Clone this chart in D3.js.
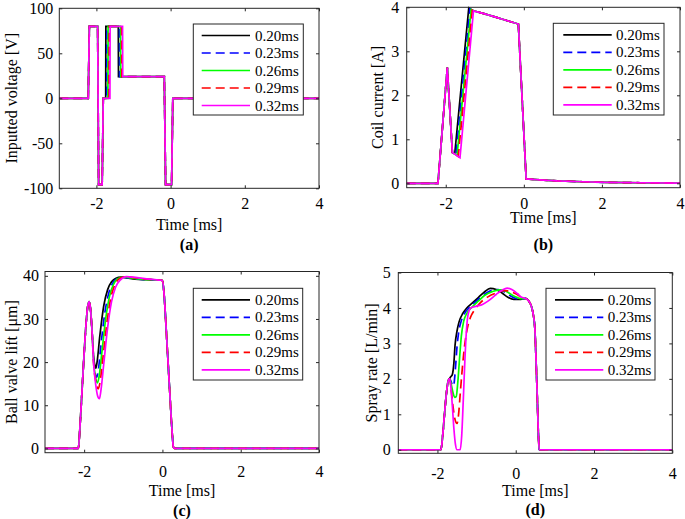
<!DOCTYPE html>
<html><head><meta charset="utf-8">
<script src="https://cdn.jsdelivr.net/npm/d3@7"></script>
<style>body{margin:0;background:#fff}svg{display:block}</style>
</head><body><script>
// ---------- data ----------
const seriesLabels = ["0.20ms","0.23ms","0.26ms","0.29ms","0.32ms"];
const timeTicks = [-2,0,2,4];
const voltageTicks = [-100,-50,0,50,100];
const currentTicks = [0,1,2,3,4];
const liftTicks = [0,10,20,30,40];
const sprayTicks = [0,1,2,3,4,5];

// (a) inputted voltage [V]
const voltageHead = [[-3,0],[-2.22,0],[-2.19,80],[-1.966,80],[-1.94,-96],[-1.845,-96],[-1.815,0]];
const voltageTail = [[-0.17,24],[-0.135,-96],[0.027,-96],[0.06,0],[4,0]];
const voltage020 = [[-1.75,0],[-1.745,80],[-1.41,80],[-1.405,24]];
const voltage023 = [[-1.72,0],[-1.715,80],[-1.38,80],[-1.375,24]];
const voltage026 = [[-1.69,0],[-1.685,80],[-1.35,80],[-1.345,24]];
const voltage029 = [[-1.66,0],[-1.655,80],[-1.32,80],[-1.315,24]];
const voltage032 = [[-1.635,0],[-1.63,80],[-1.295,80],[-1.29,24]];

// (b) coil current [A]
const currentHead = [[-3,0],[-2.2,0],[-1.96,2.63],[-1.83,0.70]];
const currentTail = [[-1.0,3.85],[-0.7,3.77],[-0.4,3.69],[-0.14,3.62],[0.06,0.10],[0.4,0.08],[0.85,0.055],[1.5,0.035],[2.1,0.022],[3.0,0.012],[4,0.005]];
const current020 = [[-1.77,0.67],[-1.41,3.99],[-1.38,3.97],[-1.35,3.95],[-1.32,3.935],[-1.29,3.92]];
const current023 = [[-1.74,0.65],[-1.38,3.97],[-1.35,3.95],[-1.32,3.935],[-1.29,3.92]];
const current026 = [[-1.71,0.63],[-1.35,3.95],[-1.32,3.935],[-1.29,3.92]];
const current029 = [[-1.68,0.61],[-1.32,3.935],[-1.29,3.92]];
const current032 = [[-1.635,0.58],[-1.29,3.92]];

// (c) ball valve lift [um]
const liftHead = [[-3,0],[-2.15,0],[-2.1,6],[-2.05,14],[-2.0,22],[-1.95,29],[-1.91,32.8],[-1.87,34],[-1.84,32.5],[-1.8,27.5]];
const liftTail = [[0,38.9],[0.04,36],[0.1,27],[0.15,19],[0.2,11],[0.25,3.5],[0.28,0.3],[0.3,0],[4,0]];
const lift020 = [[-1.76,21.5],[-1.72,19],[-1.70,18.6],[-1.67,20],[-1.6,26],[-1.5,33],[-1.4,36.8],[-1.3,38.6],[-1.2,39.4],[-1.05,39.7],[-0.9,39.5],[-0.7,39.2],[-0.4,39.1],[-0.05,39.0]];
const lift023 = [[-1.76,21],[-1.72,17.5],[-1.68,16.5],[-1.64,18],[-1.57,24],[-1.47,31.5],[-1.37,36],[-1.27,38.3],[-1.15,39.4],[-1.0,39.7],[-0.85,39.5],[-0.6,39.2],[-0.3,39.1],[-0.05,39.0]];
const lift026 = [[-1.76,20.5],[-1.71,16.5],[-1.66,15.2],[-1.62,16.5],[-1.55,22],[-1.45,30],[-1.35,35.3],[-1.25,38],[-1.12,39.4],[-0.95,39.7],[-0.8,39.5],[-0.55,39.2],[-0.25,39.1],[-0.05,39.0]];
const lift029 = [[-1.76,20],[-1.70,15.5],[-1.64,13.8],[-1.60,15],[-1.52,21],[-1.42,29],[-1.32,34.8],[-1.22,37.8],[-1.1,39.3],[-0.92,39.8],[-0.75,39.6],[-0.5,39.3],[-0.2,39.1],[-0.05,39.0]];
const lift032 = [[-1.76,20],[-1.70,14.5],[-1.65,12],[-1.61,11.5],[-1.57,13.5],[-1.5,19.5],[-1.4,28],[-1.3,34],[-1.2,37.3],[-1.08,39],[-0.92,39.8],[-0.75,39.7],[-0.5,39.4],[-0.2,39.1],[-0.05,39.0]];

// (d) spray rate [L/min]
const sprayHead = [[-3,0],[-1.91,0],[-1.87,0.35],[-1.82,1.0],[-1.77,1.6],[-1.73,1.92],[-1.69,2.01]];
const sprayTail = [[0.33,4.2],[0.4,4.05],[0.45,3.8],[0.49,3.4],[0.52,2.5],[0.55,1.5],[0.58,0.4],[0.6,0],[4,0]];
const spray020 = [[-1.66,2.06],[-1.62,2.12],[-1.58,2.45],[-1.55,2.95],[-1.5,3.35],[-1.45,3.6],[-1.35,3.85],[-1.25,4.0],[-1.1,4.15],[-0.95,4.3],[-0.8,4.45],[-0.65,4.55],[-0.5,4.52],[-0.35,4.42],[-0.2,4.3],[-0.05,4.24],[0.1,4.24],[0.25,4.27]];
const spray023 = [[-1.65,1.92],[-1.61,1.8],[-1.58,1.85],[-1.54,2.3],[-1.5,2.9],[-1.46,3.3],[-1.4,3.6],[-1.32,3.82],[-1.2,4.0],[-1.05,4.15],[-0.9,4.3],[-0.75,4.42],[-0.6,4.5],[-0.45,4.52],[-0.3,4.46],[-0.15,4.35],[0,4.27],[0.15,4.25],[0.25,4.27]];
const spray026 = [[-1.65,1.85],[-1.6,1.6],[-1.56,1.48],[-1.52,1.5],[-1.48,1.9],[-1.44,2.5],[-1.39,3.2],[-1.33,3.62],[-1.25,3.85],[-1.12,4.02],[-0.95,4.2],[-0.8,4.35],[-0.6,4.46],[-0.42,4.51],[-0.25,4.47],[-0.1,4.37],[0.05,4.29],[0.15,4.26],[0.25,4.27]];
const spray029 = [[-1.65,1.7],[-1.6,1.2],[-1.55,0.85],[-1.5,0.74],[-1.46,1.0],[-1.42,1.55],[-1.38,2.1],[-1.33,2.7],[-1.28,3.15],[-1.22,3.5],[-1.15,3.75],[-1.05,3.95],[-0.9,4.15],[-0.7,4.32],[-0.5,4.42],[-0.3,4.49],[-0.15,4.47],[0,4.4],[0.15,4.3],[0.25,4.27]];
const spray032 = [[-1.66,1.8],[-1.62,1.25],[-1.58,0.6],[-1.54,0.15],[-1.5,0],[-1.42,0],[-1.38,0.4],[-1.34,1.4],[-1.3,2.5],[-1.26,3.35],[-1.22,3.8],[-1.15,4.0],[-1.0,4.05],[-0.85,4.1],[-0.7,4.2],[-0.5,4.38],[-0.35,4.5],[-0.22,4.56],[-0.1,4.52],[0.05,4.4],[0.15,4.3],[0.25,4.27]];

// ---------- styles ----------
const seriesColors = ["#000000","#0000ff","#00ff00","#ff0000","#ff00ff"];
const seriesDash = [null,"9,5",null,"9,5",null];
const FONT = "'Liberation Serif','Times New Roman',serif";

const svg = d3.select("body").append("svg").attr("width",685).attr("height",519)
  .style("font-family", FONT);

const panels = [
 {id:"a", l:59.3, r:319, t:8.3, b:188.3, yd:[-100,100], yt:voltageTicks, ylabel:"Inputted voltage [V]",
  series:[voltage020,voltage023,voltage026,voltage029,voltage032].map(s=>voltageHead.concat(s,voltageTail)),
  curve:d3.curveLinear, xpad:9.4, ypad:6, ylabX:12, xlabY:230, capY:250, cap:"(a)",
  leg:{x:193.3,y:24,w:110,h:91,lx1:201.7,lx2:250,tx:255}},
 {id:"b", l:406.7, r:680, t:7.3, b:187.7, yd:[-0.1,4], yt:currentTicks, ylabel:"Coil current [A]",
  series:[current020,current023,current026,current029,current032].map(s=>currentHead.concat(s,currentTail)),
  curve:d3.curveLinear, xpad:9.6, ypad:7.5, ylabX:378.3, xlabY:223, capY:250, cap:"(b)",
  leg:{x:553.3,y:23.3,w:110.7,h:91.7,lx1:563.3,lx2:611.7,tx:616}},
 {id:"c", l:45, r:319, t:271.5, b:452.7, yd:[-1,41], yt:liftTicks, ylabel:"Ball valve lift [\u03bcm]",
  series:[lift020,lift023,lift026,lift029,lift032].map(s=>liftHead.concat(s,liftTail)),
  curve:d3.curveMonotoneX, xpad:13.0, ypad:6, ylabX:12, xlabY:495.5, capY:515.5, cap:"(c)",
  leg:{x:193.3,y:288.3,w:109.4,h:91.7,lx1:201.7,lx2:250,tx:255}},
 {id:"d", l:398.3, r:672.3, t:272.5, b:453.3, yd:[-0.1,5], yt:sprayTicks, ylabel:"Spray rate [L/min]",
  series:[spray020,spray023,spray026,spray029,spray032].map(s=>sprayHead.concat(s,sprayTail)),
  curve:d3.curveMonotoneX, xpad:14.4, ypad:7.5, ylabX:371.7, xlabY:496, capY:515, cap:"(d)",
  leg:{x:546,y:288.3,w:109,h:91.7,lx1:555,lx2:603.3,tx:607.7}}
];

const AX = "#262626";

panels.forEach(p => {
  const x = d3.scaleLinear().domain([-3,4]).range([p.l,p.r]);
  const y = d3.scaleLinear().domain(p.yd).range([p.b,p.t]);
  const g = svg.append("g");

  g.append("clipPath").attr("id","clip"+p.id).append("rect")
    .attr("x",p.l).attr("y",p.t-1).attr("width",p.r-p.l).attr("height",p.b-p.t+1);

  const line = d3.line().x(d=>x(d[0])).y(d=>y(d[1])).curve(p.curve);
  const lg = g.append("g").attr("clip-path","url(#clip"+p.id+")");
  p.series.forEach((s,i)=>{
    lg.append("path").datum(s).attr("d",line)
      .attr("fill","none").attr("stroke",seriesColors[i]).attr("stroke-width",1.7)
      .attr("stroke-dasharray",seriesDash[i]).attr("stroke-linejoin","miter");
  });

  const styleAxis = sel => { sel.select(".domain").remove(); sel.selectAll("line").attr("stroke",AX); sel.selectAll("text").attr("fill","#000").style("font-family",FONT).style("font-size","16px"); };
  g.append("g").attr("transform",`translate(0,${p.b})`)
    .call(d3.axisBottom(x).tickValues(timeTicks).tickFormat(d=>String(d)).tickSizeInner(-3).tickSizeOuter(0).tickPadding(p.xpad))
    .call(styleAxis);
  g.append("g").attr("transform",`translate(0,${p.t})`)
    .call(d3.axisTop(x).tickValues(timeTicks).tickFormat("").tickSizeInner(-3).tickSizeOuter(0))
    .call(styleAxis);
  g.append("g").attr("transform",`translate(${p.l},0)`)
    .call(d3.axisLeft(y).tickValues(p.yt).tickFormat(d=>String(d)).tickSizeInner(-3).tickSizeOuter(0).tickPadding(p.ypad))
    .call(styleAxis);
  g.append("g").attr("transform",`translate(${p.r},0)`)
    .call(d3.axisRight(y).tickValues(p.yt).tickFormat("").tickSizeInner(-3).tickSizeOuter(0))
    .call(styleAxis);

  g.append("rect").attr("x",p.l).attr("y",p.t).attr("width",p.r-p.l).attr("height",p.b-p.t)
    .attr("fill","none").attr("stroke",AX).attr("stroke-width",1);

  // labels
  g.append("text").attr("x",(p.l+p.r)/2).attr("y",p.xlabY).attr("text-anchor","middle")
    .style("font-size","16px").text("Time [ms]");
  g.append("text").attr("transform",`translate(${p.ylabX},${(p.t+p.b)/2}) rotate(-90)`)
    .attr("dy","0.3em").attr("text-anchor","middle").style("font-size","16px").text(p.ylabel);
  g.append("text").attr("x",(p.l+p.r)/2).attr("y",p.capY).attr("text-anchor","middle")
    .style("font-size","16px").style("font-weight","bold").text(p.cap);

  // legend
  const L = p.leg;
  const leg = g.append("g");
  leg.append("rect").attr("x",L.x).attr("y",L.y).attr("width",L.w).attr("height",L.h)
    .attr("fill","#fff").attr("stroke",AX).attr("stroke-width",1);
  seriesLabels.forEach((lab,i)=>{
    const ry = L.y + 11.5 + i*17.5;
    leg.append("line").attr("x1",L.lx1).attr("x2",L.lx2).attr("y1",ry).attr("y2",ry)
      .attr("stroke",seriesColors[i]).attr("stroke-width",1.7).attr("stroke-dasharray",seriesDash[i]);
    leg.append("text").attr("x",L.tx).attr("y",ry+5).style("font-size","15px").text(lab);
  });
});
</script></body></html>
